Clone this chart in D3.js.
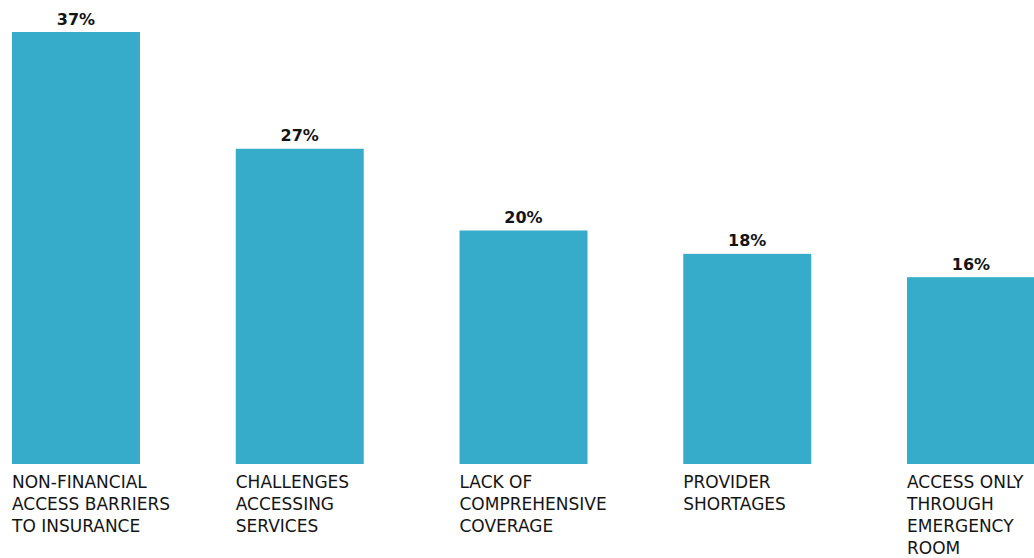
<!DOCTYPE html>
<html>
<head>
<meta charset="utf-8">
<script src="https://cdn.jsdelivr.net/npm/d3@7"></script>
<style>
  html, body { margin: 0; padding: 0; background: #ffffff; }
  svg { display: block; }
</style>
</head>
<body>
<svg id="chart" width="1034" height="558"></svg>
<script>
// Share of respondents citing each barrier (%)
const categories = [
  ["NON-FINANCIAL", "ACCESS BARRIERS", "TO INSURANCE"],
  ["CHALLENGES", "ACCESSING", "SERVICES"],
  ["LACK OF", "COMPREHENSIVE", "COVERAGE"],
  ["PROVIDER", "SHORTAGES"],
  ["ACCESS ONLY", "THROUGH", "EMERGENCY", "ROOM"]
];
const values = [37, 27, 20, 18, 16];
const valueLabels = ["37%", "27%", "20%", "18%", "16%"];

const svg = d3.select("#chart");
const baseY = 464;

const x = d3.scaleBand()
  .domain(d3.range(values.length))
  .range([12, 1035])
  .paddingInner(0.428)
  .paddingOuter(0);

const y = d3.scaleLinear()
  .domain([0, 37])
  .range([baseY, 32]);

const barColor = "#37acca";
const textColor = "#141414";
const font = "'DejaVu Sans', Verdana, sans-serif";

const g = svg.append("g");

g.selectAll("rect.bar")
  .data(values)
  .join("rect")
  .attr("class", "bar")
  .attr("x", (d, i) => x(i))
  .attr("y", d => y(d))
  .attr("width", x.bandwidth())
  .attr("height", d => baseY - y(d))
  .attr("fill", barColor);

g.selectAll("text.value")
  .data(values)
  .join("text")
  .attr("class", "value")
  .attr("x", (d, i) => x(i) + x.bandwidth() / 2)
  .attr("y", d => y(d) - 7.5)
  .attr("text-anchor", "middle")
  .attr("font-family", font)
  .attr("font-weight", "bold")
  .attr("font-size", 16)
  .attr("fill", textColor)
  .text((d, i) => valueLabels[i]);

const cat = g.selectAll("text.cat")
  .data(categories)
  .join("text")
  .attr("class", "cat")
  .attr("x", (d, i) => x(i))
  .attr("y", baseY + 24)
  .attr("font-family", font)
  .attr("font-size", 17)
  .attr("fill", textColor);

cat.selectAll("tspan")
  .data(d => d)
  .join("tspan")
  .attr("x", function () { return d3.select(this.parentNode).attr("x"); })
  .attr("dy", (d, i) => i === 0 ? 0 : 22)
  .text(d => d);
</script>
</body>
</html>
